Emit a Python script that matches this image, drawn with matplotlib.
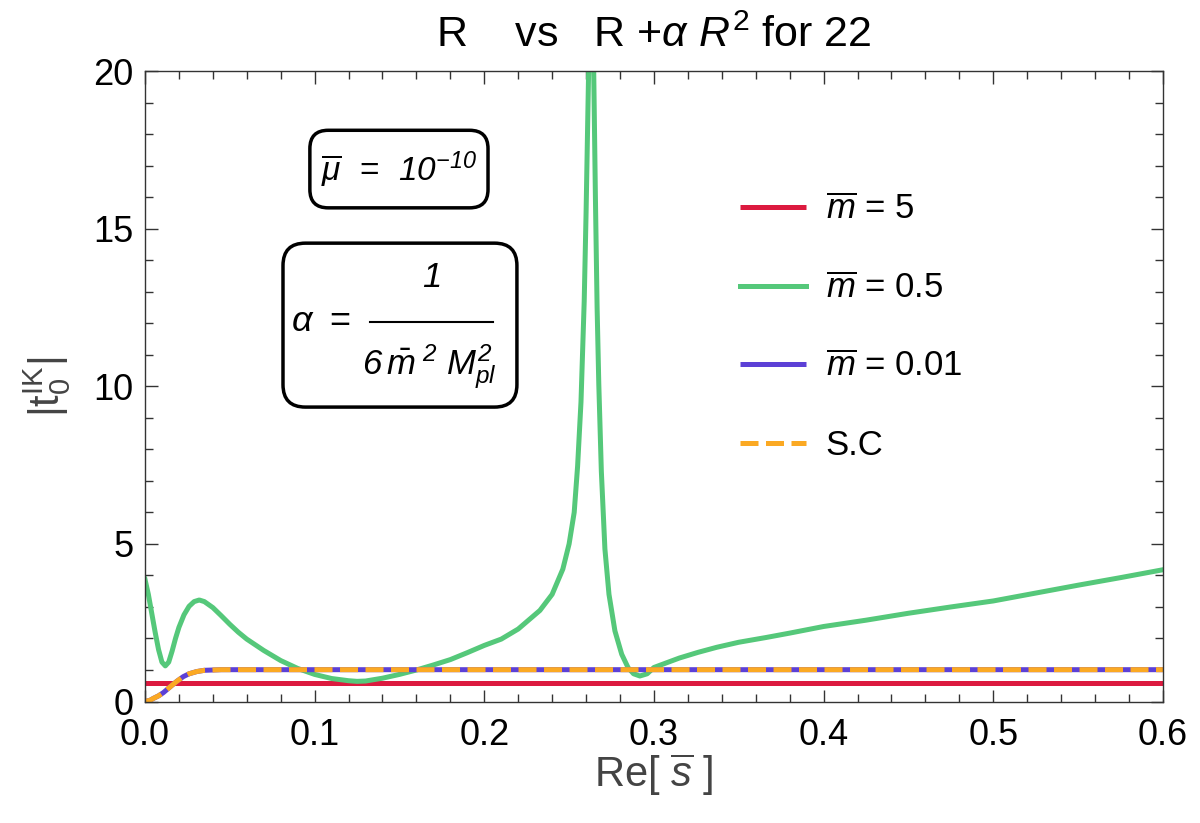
import matplotlib
matplotlib.use("Agg")
import matplotlib.pyplot as plt
from matplotlib.patches import FancyBboxPatch
from matplotlib.lines import Line2D
from matplotlib.ticker import MultipleLocator, FormatStrFormatter

plt.rcParams['font.family'] = ['Liberation Sans', 'DejaVu Sans']
plt.rcParams['mathtext.fontset'] = 'custom'
plt.rcParams['mathtext.rm'] = 'Liberation Sans'
plt.rcParams['mathtext.it'] = 'Liberation Sans:italic'
plt.rcParams['mathtext.sf'] = 'Liberation Sans:italic'  # used for italic digits
plt.rcParams['mathtext.bf'] = 'Liberation Sans:bold'

# m = 5  (flat)
x_m5 = [0.0, 0.6]
y_m5 = [0.6, 0.6]

# m = 0.5
x_m05 = [0.000, 0.002, 0.004, 0.006, 0.008, 0.010, 0.012, 0.014, 0.016, 0.018,
         0.020, 0.023, 0.026, 0.029, 0.032, 0.035, 0.040, 0.045, 0.050, 0.055,
         0.060, 0.070, 0.080, 0.090, 0.100, 0.110, 0.120, 0.125, 0.130, 0.140,
         0.150, 0.160, 0.170, 0.180, 0.190, 0.200, 0.210, 0.220, 0.2328, 0.240,
         0.2463, 0.250, 0.253, 0.255, 0.257, 0.2589, 0.2600, 0.2615, 0.2630,
         0.2645, 0.2655, 0.2665, 0.2675, 0.269, 0.2711, 0.2735, 0.277, 0.281,
         0.2848, 0.288, 0.2917, 0.296, 0.300, 0.307, 0.315, 0.326, 0.337, 0.350,
         0.366, 0.380, 0.400, 0.425, 0.450, 0.475, 0.500, 0.525, 0.550, 0.575,
         0.600]
y_m05 = [3.88, 3.40, 2.80, 2.20, 1.65, 1.25, 1.13, 1.25, 1.60, 2.00,
         2.35, 2.75, 3.02, 3.17, 3.22, 3.17, 2.98, 2.72, 2.45, 2.20,
         1.98, 1.62, 1.30, 1.05, 0.86, 0.73, 0.66, 0.64, 0.65, 0.74,
         0.86, 1.00, 1.16, 1.33, 1.55, 1.78, 1.98, 2.30, 2.89, 3.40,
         4.20, 5.00, 6.00, 7.46, 9.50, 12.7, 15.5, 20.0, 22.0,
         20.0, 16.0, 12.5, 10.06, 7.30, 4.84, 3.40, 2.24, 1.50,
         1.07, 0.88, 0.81, 0.88, 1.08, 1.22, 1.38, 1.56, 1.72, 1.88,
         2.03, 2.17, 2.38, 2.58, 2.80, 3.00, 3.19, 3.44, 3.69, 3.93,
         4.18]

# m = 0.01 and semiclassical (overlapping)
x_m001 = [0.000, 0.003, 0.005, 0.008, 0.0108, 0.013, 0.016, 0.019, 0.0226, 0.026,
          0.0305, 0.035, 0.040, 0.045, 0.050, 0.100, 0.200, 0.300, 0.400, 0.500, 0.600]
y_m001 = [0.00, 0.04, 0.10, 0.18, 0.28, 0.38, 0.52, 0.65, 0.79, 0.88,
          0.95, 0.99, 1.00, 1.01, 1.01, 1.01, 1.01, 1.01, 1.01, 1.01, 1.01]
x_sc = x_m001
y_sc = y_m001

c_red = '#DC1A3F'
c_green = '#55C87A'
c_blue = '#5C40D6'
c_orange = '#FBA923'

fig = plt.figure(figsize=(12, 8.23), dpi=100)
ax = fig.add_axes([0.1208, 0.1476, 0.8483, 0.7661])

lw = 3.6
ax.plot(x_m5, y_m5, color=c_red, lw=lw, label=r'$\overline{m}$ = 5', solid_capstyle='butt')
ax.plot(x_m05, y_m05, color=c_green, lw=lw, label=r'$\overline{m}$ = 0.5')
ax.plot(x_m001, y_m001, color=c_blue, lw=lw, label=r'$\overline{m}$ = 0.01', solid_capstyle='butt')
ax.plot(x_sc, y_sc, color=c_orange, lw=lw, ls=(0, (3.6, 1.5)), label='S.C', dash_capstyle='butt')

ax.set_xlim(0, 0.6)
ax.set_ylim(0, 20)
ax.xaxis.set_major_locator(MultipleLocator(0.1))
ax.xaxis.set_minor_locator(MultipleLocator(0.02))
ax.yaxis.set_major_locator(MultipleLocator(5))
ax.yaxis.set_minor_locator(MultipleLocator(1))
ax.xaxis.set_major_formatter(FormatStrFormatter('%.1f'))
ax.tick_params(which='both', direction='in', top=True, right=True, labelsize=26,
               color='#333333', width=1)
ax.tick_params(which='major', length=9)
ax.tick_params(axis='x', which='major', pad=12)
ax.tick_params(axis='y', which='major', pad=8)
ax.tick_params(which='minor', length=5.5)
for s in ax.spines.values():
    s.set_color('#333333')
    s.set_linewidth(1)

ax.set_title(r'R    vs   R +$\alpha$ $R^{2}$ for 22', fontsize=31, pad=17)

ax.set_xlabel(r'Re[ $\overline{s}$ ]', fontsize=30, color='#444444')
ax.xaxis.set_label_coords(0.5, -0.117)
ax.xaxis.label.set_va('center')
ax.set_ylabel(r'$|\mathrm{t}_{0}^{\mathrm{IK}}|$', fontsize=30, color='#444444')
ax.yaxis.set_label_coords(-0.096, 0.5)
ax.yaxis.label.set_va('center')

leg = ax.legend(loc='upper left', bbox_to_anchor=(0.585, 0.806), frameon=False,
                fontsize=25, handlelength=1.9, handletextpad=0.55,
                labelspacing=1.31, borderpad=0, borderaxespad=0)

# inset boxes
asp = 1018 / 630.5
box1 = FancyBboxPatch((0.162, 0.783), 0.175, 0.123, transform=ax.transAxes,
                      boxstyle='round,pad=0,rounding_size=0.018', mutation_aspect=asp,
                      fc='white', ec='black', lw=2.5, zorder=5)
ax.add_patch(box1)
ax.text(0.2495, 0.843, r'$\overline{\mu}\ \,=\ \,\mathsf{10}^{\mathsf{-10}}$', transform=ax.transAxes,
        fontsize=24, ha='center', va='center', zorder=6)

box2 = FancyBboxPatch((0.1356, 0.467), 0.2298, 0.260, transform=ax.transAxes,
                      boxstyle='round,pad=0,rounding_size=0.022', mutation_aspect=asp,
                      fc='white', ec='black', lw=2.5, zorder=5)
ax.add_patch(box2)
ax.text(0.155, 0.602, r'$\alpha$', transform=ax.transAxes, fontsize=26,
        ha='center', va='center', zorder=6)
ax.text(0.1915, 0.602, '=', transform=ax.transAxes, fontsize=26,
        ha='center', va='center', zorder=6)
ax.add_line(Line2D([0.2215, 0.3415], [0.602, 0.602], transform=ax.transAxes,
                   color='black', lw=1.5, zorder=6))
ax.text(0.2815, 0.672, '1', transform=ax.transAxes, fontsize=25, style='italic',
        ha='center', va='center', zorder=6)
ax.text(0.279, 0.530, r'$\mathsf{6}\,\bar{m}^{\ \mathsf{2}}\ M_{pl}^{\mathsf{2}}$', transform=ax.transAxes,
        fontsize=25, ha='center', va='center', zorder=6)

fig.savefig('out.png', dpi=100)
